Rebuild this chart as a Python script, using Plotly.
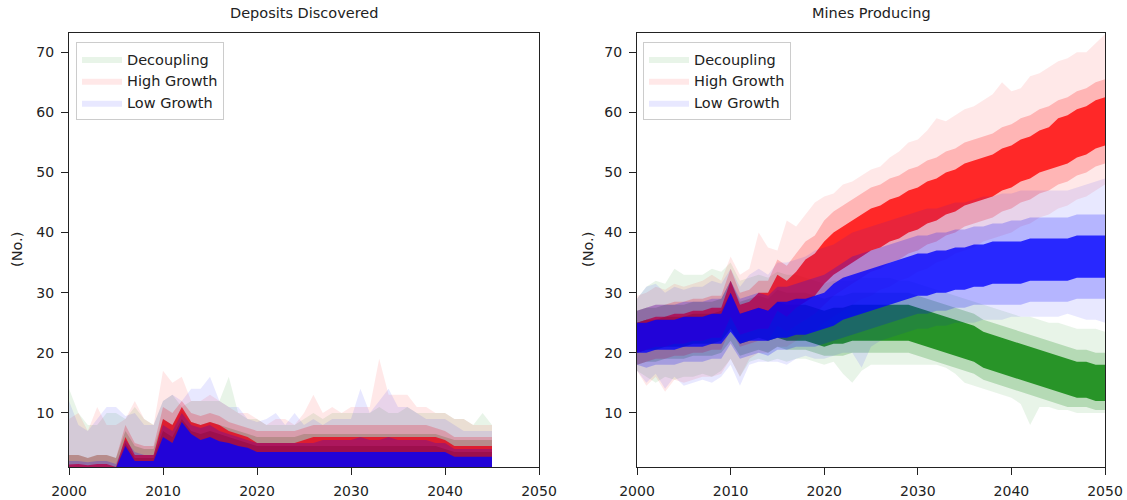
import plotly.graph_objects as go

# ---------------- categories ----------------
years_dd = list(range(2000, 2046))   # Deposits Discovered
years_mp = list(range(2000, 2051))   # Mines Producing
scenarios = ["Decoupling", "High Growth", "Low Growth"]
x_ticks = [2000, 2010, 2020, 2030, 2040, 2050]
y_ticks = [10, 20, 30, 40, 50, 60, 70]

# ---------------- Deposits Discovered (bands from 0 up to value) ----------------
# Decoupling
dd_dec_outer = [14, 10, 8, 8, 10, 10, 9, 11, 9, 8,
                12, 13, 11, 12, 12, 12, 12, 16, 10, 9,
                9, 8, 8, 8, 8, 9, 10, 9, 10, 10,
                10, 10, 10, 11, 10, 10, 11, 10, 10, 10,
                10, 9, 9, 8, 10, 8]
dd_dec_mid = [3, 3, 2.5, 3, 3, 2.5, 7, 4.5, 4, 4,
              9, 8, 10.5, 8.5, 8, 8.5, 8, 7.5, 7, 6.5,
              6, 6, 6, 6, 6, 6.5, 6.5, 6.5, 6.5, 6.5,
              6.5, 6.5, 6.5, 6.5, 6.5, 6.5, 6.5, 6.5, 6.5, 6.5,
              6, 5.5, 5.5, 5.5, 5.5, 5.5]
dd_dec_core = [1.0, 1.0, 1.0, 1.0, 1.0, 0.8, 5, 2.5, 2.5, 2.5,
               7, 6, 9, 7, 6.5, 7, 6.5, 6, 5.5, 5,
               4.5, 4.5, 4.5, 4.5, 4.5, 4.5, 4.5, 4.5, 4.5, 4.5,
               4.5, 4.5, 4.5, 4.5, 4.5, 4.5, 4.5, 4.5, 4.5, 4.5,
               4, 3.5, 3.5, 3.5, 3.5, 3.5]
# High Growth
dd_high_outer = [9, 10, 7, 11, 8, 8, 9, 12, 9, 8,
                 17, 15, 16, 12, 12, 13, 12, 11, 10, 10,
                 9, 8, 9, 9, 8, 10, 13, 10, 11, 10,
                 11, 11, 11, 19, 13, 13, 13, 11, 11, 10,
                 10, 9, 9, 8, 8, 8]
dd_high_mid = [3, 3, 2.5, 3, 3, 2.5, 8, 5, 4.5, 4.5,
               11, 10, 12, 10, 9.5, 10, 9.5, 8.5, 8, 7.5,
               7, 7, 7, 7, 7, 7.5, 8, 8, 8, 8,
               8, 8, 8, 8, 8, 8, 8, 8, 8, 7.5,
               7, 6, 6, 6, 6, 6]
dd_high_core = [1.4, 1.5, 1.3, 1.5, 1.5, 1.0, 6, 3, 3, 3,
                9, 8, 11, 8.5, 8, 8.5, 8, 7, 6.5, 6,
                5, 5, 5, 5, 5, 5.5, 6, 6, 6, 6,
                6, 6, 6, 6, 6, 6, 6, 6, 6, 6,
                5.5, 4.5, 4.5, 4.5, 4.5, 4.5]
# Low Growth
dd_low_outer = [12, 8, 7, 9, 11, 11, 9.5, 10, 8, 8,
                12, 13, 12, 14, 14, 16, 12, 11, 11, 9,
                8.5, 9, 10, 8, 10, 8, 9, 8, 9, 9,
                9, 14, 10, 12, 14, 11, 11, 10, 9, 9,
                9, 8, 7, 7, 7, 7]
dd_low_mid = [2, 2, 1.8, 2, 2, 1.5, 5.5, 3.5, 3, 3,
              8, 7, 10, 8, 7.5, 8, 7, 6.5, 6, 5.5,
              5, 5, 5, 5, 5, 5, 5, 5.5, 5.5, 5.5,
              5.5, 6, 5.5, 5.5, 6, 5.5, 5.5, 5.5, 5.5, 5,
              5, 4, 4, 4, 4, 4]
dd_low_core = [0.8, 0.8, 0.8, 0.8, 0.8, 0.8, 4.5, 2, 2, 2,
               6, 5, 8.5, 6.5, 5.5, 6, 5.3, 5, 4.5, 4.2,
               3.5, 3.5, 3.5, 3.5, 3.5, 3.5, 3.5, 3.5, 3.5, 3.5,
               3.5, 3.5, 3.5, 3.5, 3.5, 3.5, 3.5, 3.5, 3.5, 3.5,
               3.5, 2.7, 2.7, 2.7, 2.7, 2.7]

# ---------------- Mines Producing (lower / upper per band) ----------------
# Decoupling
mp_dec_outer_lo = [17, 16, 15, 16, 15.5, 16, 16, 16.5, 16, 17,
                   19, 16, 18.5, 19, 18.5, 19, 18.5, 19, 19, 18.5,
                   18, 18.5, 16.5, 15, 17, 18, 18, 18, 18, 18,
                   18, 18, 18, 17.5, 16.5, 15, 14.5, 14, 13.5, 13,
                   12.5, 11.5, 8, 11, 11, 10.5, 10.5, 10, 10, 10, 10]
mp_dec_outer_hi = [29, 31, 32, 31.5, 34, 33, 33, 33, 34, 33.5,
                   35, 32, 32.5, 33, 32.5, 33.5, 33, 33, 32.5, 32,
                   31.5, 32, 32, 32, 32.5, 32.5, 32.5, 32.5, 32, 32,
                   31.5, 31, 30.5, 30, 29.5, 29, 28.5, 28, 27.5, 27,
                   26.5, 26, 26, 25.5, 25, 25, 24.5, 24, 24, 24, 23.5]
mp_dec_mid_lo = [18, 18.5, 18.5, 19, 19, 19, 19.5, 19.5, 19.5, 20,
                 22, 19.5, 20, 20.5, 20, 21, 20.5, 20.5, 20.5, 20,
                 19.5, 19.5, 19.5, 20, 20, 20, 20, 20, 20, 20,
                 19.5, 19, 18.5, 18, 17.5, 17, 16.5, 15.5, 15, 14.5,
                 14, 13.5, 13, 12.5, 12, 11.5, 11, 11, 11, 10.5, 10.5]
mp_dec_mid_hi = [27, 27.5, 27.5, 28, 28, 28, 28.5, 28.5, 28.5, 29,
                 32, 28.5, 29, 29.5, 29, 30.5, 30, 30, 30, 29.5,
                 29, 29.5, 29.5, 30, 30, 30, 30, 30, 30, 30,
                 29.5, 29, 28.5, 28, 27.5, 27, 26.5, 25.5, 25, 24.5,
                 24, 23.5, 23, 22.5, 22, 21.5, 21, 20.5, 20.5, 20, 20]
mp_dec_core_lo = [20, 20.5, 20.5, 21, 21, 21, 21.5, 21.5, 21.5, 22,
                  24, 21.5, 22, 22.5, 22, 22.5, 22, 22, 22, 21.5,
                  21, 21.5, 21.5, 22, 22, 22, 22, 22, 22, 22,
                  21.5, 21, 20.5, 20, 19.5, 19, 18.5, 17.5, 17, 16.5,
                  16, 15.5, 15, 14.5, 14, 13.5, 13, 12.5, 12.5, 12, 12]
mp_dec_core_hi = [25, 25.5, 25.5, 26, 26, 26, 26.5, 26.5, 26.5, 27,
                  30, 26.5, 27, 27.5, 27, 28.5, 28, 28, 28, 27.5,
                  27, 27.5, 27.5, 28, 28, 28, 28, 28, 28, 28,
                  27.5, 27, 26.5, 26, 25.5, 25, 24.5, 23.5, 23, 22.5,
                  22, 21.5, 21, 20.5, 20, 19.5, 19, 18.5, 18.5, 18, 18]
# High Growth
mp_high_outer_lo = [17, 14.5, 16, 13.5, 15.5, 15, 15.5, 16, 16, 16.5,
                    19, 16, 19, 20, 20, 21, 21, 22, 23, 23.5,
                    25, 26, 27, 28, 29, 29.5, 30.5, 31, 32, 32.5,
                    33.5, 34, 35, 35.5, 36.5, 37, 37.5, 38.5, 39, 39.5,
                    40, 41, 41.5, 42.5, 43, 44, 44.5, 45.5, 46, 47, 48]
mp_high_outer_hi = [29.5, 30, 31, 30.5, 31.5, 31, 31.5, 32, 33, 32,
                    36, 33, 34, 40, 37.5, 37, 42, 41, 43, 45,
                    46, 46.5, 48, 48.5, 49.5, 50.5, 51, 52.5, 53.5, 55,
                    55.5, 57, 59, 58.5, 59.5, 60.5, 61, 62, 63, 65,
                    63.5, 64, 66, 66.5, 67.5, 68.5, 69, 70, 70, 71.5, 73]
mp_high_mid_lo = [18, 18.5, 19, 19, 19.5, 19.5, 20, 20, 20.5, 20.5,
                  24, 21, 21.5, 22, 22, 24.5, 23.5, 24.5, 25.5, 26.5,
                  28, 29.5, 30.5, 31.5, 32.5, 33.5, 34, 35, 35.5, 36.5,
                  37, 38, 38.5, 39.5, 40, 41, 41.5, 42, 42.5, 43.5,
                  44, 45, 45.5, 46.5, 47, 48, 48.5, 49.5, 50, 51, 51.5]
mp_high_mid_hi = [27, 27.5, 28, 28, 28.5, 28.5, 29, 29, 29.5, 29.5,
                  34, 30, 30.5, 32, 32, 35.5, 34.5, 36.5, 38.5, 39.5,
                  42, 43.5, 44.5, 45.5, 46.5, 47.5, 48, 49, 49.5, 50.5,
                  51, 52, 52.5, 53.5, 54, 55, 55.5, 56, 56.5, 57.5,
                  58, 59, 59.5, 60.5, 61, 62, 62.5, 63.5, 64, 65, 65.5]
mp_high_core_lo = [20, 20.5, 21, 21, 21.5, 21.5, 22, 22, 22.5, 22.5,
                   26, 23, 23.5, 24, 24, 27, 26, 27.5, 28.5, 29.5,
                   31.5, 33, 34, 35, 36, 37, 37.5, 38.5, 39, 40,
                   40.5, 41.5, 42, 43, 43.5, 44.5, 45, 45.5, 46, 47,
                   47.5, 48.5, 49, 50, 50.5, 51, 51.5, 52.5, 53, 54, 54.5]
mp_high_core_hi = [25, 25.5, 26, 26, 26.5, 26.5, 27, 27, 27.5, 27.5,
                   32, 28, 28.5, 30, 30, 33, 32, 33.5, 35.5, 36.5,
                   38.5, 40, 41, 42, 43, 44, 44.5, 45.5, 46, 47,
                   47.5, 48.5, 49, 50, 50.5, 51.5, 52, 52.5, 53, 54,
                   54.5, 55.5, 56, 57, 57.5, 59, 59.5, 60.5, 61, 62, 62.5]
# Low Growth
mp_low_outer_lo = [17, 15, 16.5, 14, 16, 14.5, 15, 15.5, 15, 16,
                   18, 14.5, 18, 18.5, 18.5, 18.5, 18, 19, 19.5, 19,
                   19, 19.5, 20, 20, 17.5, 21, 22, 22.5, 23, 23.5,
                   24, 24, 24.5, 24.5, 25, 25, 25, 25.5, 25.5, 25.5,
                   26, 26, 26, 26, 26, 26, 26.5, 26, 25.5, 25.5, 25]
mp_low_outer_hi = [29, 31, 31.5, 30, 31, 30.5, 31, 31, 32, 31.5,
                   34, 31, 33, 34, 33, 35, 35, 35.5, 36, 37,
                   37.5, 38, 39, 40, 40.5, 41, 41.5, 42, 42.5, 43,
                   43.5, 44, 44, 44.5, 45, 45, 45.5, 46, 46, 46.5,
                   46.5, 47, 47, 47, 47, 47, 47, 47.5, 48, 48.5, 49]
mp_low_mid_lo = [18, 17.5, 18, 18, 18, 18.5, 18.5, 18.5, 19, 19,
                 21.5, 19, 19.5, 20, 19.5, 20.5, 20.5, 21, 21, 21,
                 21.5, 22, 22.5, 23, 23.5, 24, 24.5, 25, 25.5, 26,
                 26.5, 26.5, 27, 27, 27.5, 27.5, 28, 28, 28, 28,
                 28, 28, 28.5, 28.5, 28.5, 28.5, 28.5, 29, 29, 29, 29]
mp_low_mid_hi = [27, 27.5, 28, 28, 28, 28.5, 28.5, 28.5, 29, 29,
                 32, 29, 29.5, 30, 29.5, 31, 31, 31.5, 32, 32.5,
                 33, 34, 35, 36, 36.5, 37, 37.5, 38, 38.5, 39,
                 39.5, 39.5, 40, 40, 40.5, 40.5, 41, 41, 41.5, 41.5,
                 42, 42, 42.5, 42.5, 42.5, 42.5, 42.5, 43, 43, 43, 43]
mp_low_core_lo = [20, 20, 20.5, 20.5, 20.5, 21, 21, 21, 21.5, 21.5,
                  23.5, 21.5, 22, 22, 22, 22.5, 22.5, 23, 23, 23.5,
                  24, 24.5, 25.5, 26, 26.5, 27, 27.5, 28, 28.5, 29,
                  29.5, 29.5, 30, 30, 30.5, 30.5, 31, 31, 31.5, 31.5,
                  31.5, 31.5, 32, 32, 32, 32, 32, 32.5, 32.5, 32.5, 32.5]
mp_low_core_hi = [25, 25, 25.5, 25.5, 25.5, 26, 26, 26, 26.5, 26.5,
                  30, 26.5, 27, 27.5, 27, 28.5, 28.5, 29, 29, 29.5,
                  30, 31.5, 32.5, 33, 33.5, 34, 34.5, 35, 35.5, 36,
                  36.5, 36.5, 37, 37, 37.5, 37.5, 38, 38, 38.5, 38.5,
                  38.5, 38.5, 39, 39, 39, 39, 39, 39.5, 39.5, 39.5, 39.5]

# ---------------- styling ----------------
rgb = {"Decoupling": (0, 128, 0), "High Growth": (255, 0, 0), "Low Growth": (0, 0, 255)}
alphas = {"outer": 0.09, "mid": 0.22, "core": 0.78}


def rgba(name, a):
    r, g, b = rgb[name]
    return f"rgba({r},{g},{b},{a})"


fig = go.Figure()

dd_sets = {
    "Decoupling": [("outer", dd_dec_outer), ("mid", dd_dec_mid), ("core", dd_dec_core)],
    "High Growth": [("outer", dd_high_outer), ("mid", dd_high_mid), ("core", dd_high_core)],
    "Low Growth": [("outer", dd_low_outer), ("mid", dd_low_mid), ("core", dd_low_core)],
}
mp_sets = {
    "Decoupling": [("outer", mp_dec_outer_lo, mp_dec_outer_hi), ("mid", mp_dec_mid_lo, mp_dec_mid_hi),
                   ("core", mp_dec_core_lo, mp_dec_core_hi)],
    "High Growth": [("outer", mp_high_outer_lo, mp_high_outer_hi), ("mid", mp_high_mid_lo, mp_high_mid_hi),
                    ("core", mp_high_core_lo, mp_high_core_hi)],
    "Low Growth": [("outer", mp_low_outer_lo, mp_low_outer_hi), ("mid", mp_low_mid_lo, mp_low_mid_hi),
                   ("core", mp_low_core_lo, mp_low_core_hi)],
}

# Left panel
for sc in scenarios:
    for level, up in dd_sets[sc]:
        fig.add_trace(go.Scatter(
            x=years_dd, y=up, mode="lines", line=dict(width=0, color=rgba(sc, alphas[level])),
            fill="tozeroy", fillcolor=rgba(sc, alphas[level]),
            name=sc, showlegend=(level == "outer"), legend="legend",
            hoverinfo="skip", xaxis="x", yaxis="y"))

# Right panel
for sc in scenarios:
    for level, lo, hi in mp_sets[sc]:
        fig.add_trace(go.Scatter(
            x=years_mp, y=lo, mode="lines", line=dict(width=0, color=rgba(sc, 0)),
            showlegend=False, hoverinfo="skip", xaxis="x2", yaxis="y2"))
        fig.add_trace(go.Scatter(
            x=years_mp, y=hi, mode="lines", line=dict(width=0, color=rgba(sc, alphas[level])),
            fill="tonexty", fillcolor=rgba(sc, alphas[level]),
            name=sc, showlegend=(level == "outer"), legend="legend2",
            hoverinfo="skip", xaxis="x2", yaxis="y2"))

W, H = 1127, 500
font_family = "DejaVu Sans"
tick_font = dict(family=font_family, size=14, color="#222")
ax_common = dict(showgrid=False, zeroline=False, showline=True, linecolor="#222", linewidth=1.3,
                 mirror=True, ticks="outside", ticklen=7, tickwidth=1.2, tickcolor="#222",
                 tickfont=tick_font, automargin=False, ticklabelstandoff=4)

ydom = [1 - 467 / H, 1 - 33 / H]
legend_common = dict(xanchor="left", yanchor="top", traceorder="normal",
                     bgcolor="rgba(255,255,255,0.85)", bordercolor="#cccccc", borderwidth=1,
                     font=dict(family=font_family, size=14.5, color="#222"), tracegroupgap=0,
                     itemwidth=40)
ann_font = dict(family=font_family, size=14.5, color="#222")
fig.update_layout(
    width=W, height=H, margin=dict(l=0, r=0, t=0, b=0, autoexpand=False),
    paper_bgcolor="white", plot_bgcolor="white",
    font=dict(family=font_family, size=14, color="#222"),
    xaxis=dict(domain=[69 / W, 539 / W], range=[2000, 2050], tickvals=x_ticks, anchor="y", **ax_common),
    yaxis=dict(domain=ydom, range=[1.0, 73.2], tickvals=y_ticks, anchor="x", **ax_common),
    xaxis2=dict(domain=[637 / W, 1105 / W], range=[2000, 2050], tickvals=x_ticks, anchor="y2", **ax_common),
    yaxis2=dict(domain=ydom, range=[1.0, 73.2], tickvals=y_ticks, anchor="x2", **ax_common),
    legend=dict(x=76 / W, y=1 - 42 / H, **legend_common),
    legend2=dict(x=643 / W, y=1 - 42 / H, **legend_common),
    annotations=[
        dict(text="Deposits Discovered", x=304 / W, y=1 - 13 / H, xref="paper", yref="paper",
             xanchor="center", yanchor="middle", showarrow=False, font=ann_font),
        dict(text="Mines Producing", x=871 / W, y=1 - 13 / H, xref="paper", yref="paper",
             xanchor="center", yanchor="middle", showarrow=False, font=ann_font),
        dict(text="(No.)", x=17 / W, y=0.5, xref="paper", yref="paper", textangle=-90,
             xanchor="center", yanchor="middle", showarrow=False, font=ann_font),
        dict(text="(No.)", x=588 / W, y=0.5, xref="paper", yref="paper", textangle=-90,
             xanchor="center", yanchor="middle", showarrow=False, font=ann_font),
    ],
)

fig.write_html("out.html", config={"displayModeBar": False},
               post_script="document.body.style.margin='0';document.body.style.overflow='hidden';")
